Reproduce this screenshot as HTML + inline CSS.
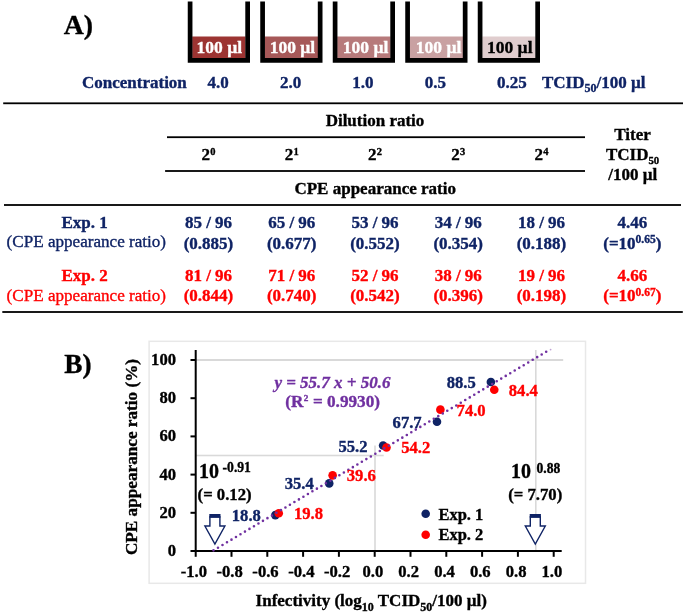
<!DOCTYPE html>
<html><head><meta charset="utf-8"><style>
html,body{margin:0;padding:0;background:#fff;}
svg{display:block;will-change:transform;}
</style></head><body>
<svg width="685" height="613" viewBox="0 0 685 613">
<text x="63.8" y="34" font-size="27.8" text-anchor="start" fill="#000" stroke="#000" stroke-width="0.35" font-weight="bold" font-style="normal" font-family="&quot;Liberation Serif&quot;, serif" >A)</text>
<rect x="192.2" y="36.5" width="53.3" height="22.5" fill="#9c3432"/>
<path d="M190.1,1.6 V60.4 H247.65 V1.6" fill="none" stroke="#000" stroke-width="4.7" stroke-linejoin="miter"/>
<text x="219.35" y="52.9" font-size="17.5" text-anchor="middle" fill="#fff" stroke="#fff" stroke-width="0.35" font-weight="bold" font-style="normal" font-family="&quot;Liberation Serif&quot;, serif" >100 µl</text>
<rect x="264.7" y="36.5" width="53.3" height="22.5" fill="#a65858"/>
<path d="M262.59999999999997,1.6 V60.4 H320.15 V1.6" fill="none" stroke="#000" stroke-width="4.7" stroke-linejoin="miter"/>
<text x="292.45" y="52.9" font-size="17.5" text-anchor="middle" fill="#fff" stroke="#fff" stroke-width="0.35" font-weight="bold" font-style="normal" font-family="&quot;Liberation Serif&quot;, serif" >100 µl</text>
<rect x="337.2" y="36.5" width="53.3" height="22.5" fill="#b77a7b"/>
<path d="M335.09999999999997,1.6 V60.4 H392.65 V1.6" fill="none" stroke="#000" stroke-width="4.7" stroke-linejoin="miter"/>
<text x="365.65" y="52.9" font-size="17.5" text-anchor="middle" fill="#fff" stroke="#fff" stroke-width="0.35" font-weight="bold" font-style="normal" font-family="&quot;Liberation Serif&quot;, serif" >100 µl</text>
<rect x="409.7" y="36.5" width="53.3" height="22.5" fill="#c9a1a2"/>
<path d="M407.59999999999997,1.6 V60.4 H465.15 V1.6" fill="none" stroke="#000" stroke-width="4.7" stroke-linejoin="miter"/>
<text x="438.65" y="52.9" font-size="17.5" text-anchor="middle" fill="#fff" stroke="#fff" stroke-width="0.35" font-weight="bold" font-style="normal" font-family="&quot;Liberation Serif&quot;, serif" >100 µl</text>
<rect x="482.2" y="36.5" width="53.3" height="22.5" fill="#e0cdce"/>
<path d="M480.09999999999997,1.6 V60.4 H537.65 V1.6" fill="none" stroke="#000" stroke-width="4.7" stroke-linejoin="miter"/>
<text x="509.74999999999994" y="52.9" font-size="17.5" text-anchor="middle" fill="#000" stroke="#000" stroke-width="0.35" font-weight="bold" font-style="normal" font-family="&quot;Liberation Serif&quot;, serif" >100 µl</text>
<text x="82" y="88.4" font-size="17" text-anchor="start" fill="#0f2365" stroke="#0f2365" stroke-width="0.35" font-weight="bold" font-style="normal" font-family="&quot;Liberation Serif&quot;, serif" >Concentration</text>
<text x="207.5" y="88.4" font-size="17" text-anchor="start" fill="#0f2365" stroke="#0f2365" stroke-width="0.35" font-weight="bold" font-style="normal" font-family="&quot;Liberation Serif&quot;, serif" >4.0</text>
<text x="279.9" y="88.4" font-size="17" text-anchor="start" fill="#0f2365" stroke="#0f2365" stroke-width="0.35" font-weight="bold" font-style="normal" font-family="&quot;Liberation Serif&quot;, serif" >2.0</text>
<text x="352.3" y="88.4" font-size="17" text-anchor="start" fill="#0f2365" stroke="#0f2365" stroke-width="0.35" font-weight="bold" font-style="normal" font-family="&quot;Liberation Serif&quot;, serif" >1.0</text>
<text x="424.70000000000005" y="88.4" font-size="17" text-anchor="start" fill="#0f2365" stroke="#0f2365" stroke-width="0.35" font-weight="bold" font-style="normal" font-family="&quot;Liberation Serif&quot;, serif" >0.5</text>
<text x="497.1" y="88.4" font-size="17" text-anchor="start" fill="#0f2365" stroke="#0f2365" stroke-width="0.35" font-weight="bold" font-style="normal" font-family="&quot;Liberation Serif&quot;, serif" >0.25</text>
<text x="542" y="88.2" font-size="17" text-anchor="start" fill="#0f2365" stroke="#0f2365" stroke-width="0.35" font-weight="bold" font-style="normal" font-family="&quot;Liberation Serif&quot;, serif" >TCID<tspan font-size="12" dy="3.7">50</tspan><tspan dy="-3.7">/100 µl</tspan></text>
<rect x="3.2" y="102.39999999999999" width="679.8" height="1.8" fill="#000"/>
<rect x="167" y="136.29999999999998" width="418" height="1.8" fill="#000"/>
<rect x="165.1" y="170.1" width="419.9" height="1.8" fill="#000"/>
<rect x="4" y="204.1" width="677" height="1.8" fill="#000"/>
<rect x="2.3" y="311.1" width="680.5" height="1.8" fill="#000"/>
<text x="375" y="126" font-size="17" text-anchor="middle" fill="#000" stroke="#000" stroke-width="0.35" font-weight="bold" font-style="normal" font-family="&quot;Liberation Serif&quot;, serif" >Dilution ratio</text>
<text x="208.5" y="160.4" font-size="17" text-anchor="middle" fill="#000" stroke="#000" stroke-width="0.35" font-weight="bold" font-style="normal" font-family="&quot;Liberation Serif&quot;, serif" >2<tspan font-size="10.5" dy="-5.4" dx="0.3">0</tspan></text>
<text x="291.75" y="160.4" font-size="17" text-anchor="middle" fill="#000" stroke="#000" stroke-width="0.35" font-weight="bold" font-style="normal" font-family="&quot;Liberation Serif&quot;, serif" >2<tspan font-size="10.5" dy="-5.4" dx="0.3">1</tspan></text>
<text x="375.0" y="160.4" font-size="17" text-anchor="middle" fill="#000" stroke="#000" stroke-width="0.35" font-weight="bold" font-style="normal" font-family="&quot;Liberation Serif&quot;, serif" >2<tspan font-size="10.5" dy="-5.4" dx="0.3">2</tspan></text>
<text x="458.25" y="160.4" font-size="17" text-anchor="middle" fill="#000" stroke="#000" stroke-width="0.35" font-weight="bold" font-style="normal" font-family="&quot;Liberation Serif&quot;, serif" >2<tspan font-size="10.5" dy="-5.4" dx="0.3">3</tspan></text>
<text x="541.5" y="160.4" font-size="17" text-anchor="middle" fill="#000" stroke="#000" stroke-width="0.35" font-weight="bold" font-style="normal" font-family="&quot;Liberation Serif&quot;, serif" >2<tspan font-size="10.5" dy="-5.4" dx="0.3">4</tspan></text>
<text x="632.5" y="139.8" font-size="17" text-anchor="middle" fill="#000" stroke="#000" stroke-width="0.35" font-weight="bold" font-style="normal" font-family="&quot;Liberation Serif&quot;, serif" >Titer</text>
<text x="632.6" y="160" font-size="17" text-anchor="middle" fill="#000" stroke="#000" stroke-width="0.35" font-weight="bold" font-style="normal" font-family="&quot;Liberation Serif&quot;, serif" >TCID<tspan font-size="10.8" dy="4.3">50</tspan></text>
<text x="632.7" y="180.3" font-size="17" text-anchor="middle" fill="#000" stroke="#000" stroke-width="0.35" font-weight="bold" font-style="normal" font-family="&quot;Liberation Serif&quot;, serif" >/100 µl</text>
<text x="375.2" y="193.5" font-size="17" text-anchor="middle" fill="#000" stroke="#000" stroke-width="0.35" font-weight="bold" font-style="normal" font-family="&quot;Liberation Serif&quot;, serif" >CPE appearance ratio</text>
<text x="84.6" y="227.6" font-size="17" text-anchor="middle" fill="#0f2365" stroke="#0f2365" stroke-width="0.35" font-weight="bold" font-style="normal" font-family="&quot;Liberation Serif&quot;, serif" >Exp. 1</text>
<text x="86.3" y="246.5" font-size="17.1" text-anchor="middle" fill="#0f2365" stroke="#0f2365" stroke-width="0.35" font-weight="normal" font-style="normal" font-family="&quot;Liberation Serif&quot;, serif" >(CPE appearance ratio)</text>
<text x="84.6" y="281.1" font-size="17" text-anchor="middle" fill="#ff0000" stroke="#ff0000" stroke-width="0.35" font-weight="bold" font-style="normal" font-family="&quot;Liberation Serif&quot;, serif" >Exp. 2</text>
<text x="86.3" y="301.0" font-size="17.1" text-anchor="middle" fill="#ff0000" stroke="#ff0000" stroke-width="0.35" font-weight="normal" font-style="normal" font-family="&quot;Liberation Serif&quot;, serif" >(CPE appearance ratio)</text>
<text x="208.5" y="228.3" font-size="17" text-anchor="middle" fill="#0f2365" stroke="#0f2365" stroke-width="0.35" font-weight="bold" font-style="normal" font-family="&quot;Liberation Serif&quot;, serif" >85 / 96</text>
<text x="208.5" y="248.6" font-size="17" text-anchor="middle" fill="#0f2365" stroke="#0f2365" stroke-width="0.35" font-weight="bold" font-style="normal" font-family="&quot;Liberation Serif&quot;, serif" >(0.885)</text>
<text x="208.5" y="281.2" font-size="17" text-anchor="middle" fill="#ff0000" stroke="#ff0000" stroke-width="0.35" font-weight="bold" font-style="normal" font-family="&quot;Liberation Serif&quot;, serif" >81 / 96</text>
<text x="208.5" y="301.4" font-size="17" text-anchor="middle" fill="#ff0000" stroke="#ff0000" stroke-width="0.35" font-weight="bold" font-style="normal" font-family="&quot;Liberation Serif&quot;, serif" >(0.844)</text>
<text x="291.75" y="228.3" font-size="17" text-anchor="middle" fill="#0f2365" stroke="#0f2365" stroke-width="0.35" font-weight="bold" font-style="normal" font-family="&quot;Liberation Serif&quot;, serif" >65 / 96</text>
<text x="291.75" y="248.6" font-size="17" text-anchor="middle" fill="#0f2365" stroke="#0f2365" stroke-width="0.35" font-weight="bold" font-style="normal" font-family="&quot;Liberation Serif&quot;, serif" >(0.677)</text>
<text x="291.75" y="281.2" font-size="17" text-anchor="middle" fill="#ff0000" stroke="#ff0000" stroke-width="0.35" font-weight="bold" font-style="normal" font-family="&quot;Liberation Serif&quot;, serif" >71 / 96</text>
<text x="291.75" y="301.4" font-size="17" text-anchor="middle" fill="#ff0000" stroke="#ff0000" stroke-width="0.35" font-weight="bold" font-style="normal" font-family="&quot;Liberation Serif&quot;, serif" >(0.740)</text>
<text x="375.0" y="228.3" font-size="17" text-anchor="middle" fill="#0f2365" stroke="#0f2365" stroke-width="0.35" font-weight="bold" font-style="normal" font-family="&quot;Liberation Serif&quot;, serif" >53 / 96</text>
<text x="375.0" y="248.6" font-size="17" text-anchor="middle" fill="#0f2365" stroke="#0f2365" stroke-width="0.35" font-weight="bold" font-style="normal" font-family="&quot;Liberation Serif&quot;, serif" >(0.552)</text>
<text x="375.0" y="281.2" font-size="17" text-anchor="middle" fill="#ff0000" stroke="#ff0000" stroke-width="0.35" font-weight="bold" font-style="normal" font-family="&quot;Liberation Serif&quot;, serif" >52 / 96</text>
<text x="375.0" y="301.4" font-size="17" text-anchor="middle" fill="#ff0000" stroke="#ff0000" stroke-width="0.35" font-weight="bold" font-style="normal" font-family="&quot;Liberation Serif&quot;, serif" >(0.542)</text>
<text x="458.25" y="228.3" font-size="17" text-anchor="middle" fill="#0f2365" stroke="#0f2365" stroke-width="0.35" font-weight="bold" font-style="normal" font-family="&quot;Liberation Serif&quot;, serif" >34 / 96</text>
<text x="458.25" y="248.6" font-size="17" text-anchor="middle" fill="#0f2365" stroke="#0f2365" stroke-width="0.35" font-weight="bold" font-style="normal" font-family="&quot;Liberation Serif&quot;, serif" >(0.354)</text>
<text x="458.25" y="281.2" font-size="17" text-anchor="middle" fill="#ff0000" stroke="#ff0000" stroke-width="0.35" font-weight="bold" font-style="normal" font-family="&quot;Liberation Serif&quot;, serif" >38 / 96</text>
<text x="458.25" y="301.4" font-size="17" text-anchor="middle" fill="#ff0000" stroke="#ff0000" stroke-width="0.35" font-weight="bold" font-style="normal" font-family="&quot;Liberation Serif&quot;, serif" >(0.396)</text>
<text x="541.5" y="228.3" font-size="17" text-anchor="middle" fill="#0f2365" stroke="#0f2365" stroke-width="0.35" font-weight="bold" font-style="normal" font-family="&quot;Liberation Serif&quot;, serif" >18 / 96</text>
<text x="541.5" y="248.6" font-size="17" text-anchor="middle" fill="#0f2365" stroke="#0f2365" stroke-width="0.35" font-weight="bold" font-style="normal" font-family="&quot;Liberation Serif&quot;, serif" >(0.188)</text>
<text x="541.5" y="281.2" font-size="17" text-anchor="middle" fill="#ff0000" stroke="#ff0000" stroke-width="0.35" font-weight="bold" font-style="normal" font-family="&quot;Liberation Serif&quot;, serif" >19 / 96</text>
<text x="541.5" y="301.4" font-size="17" text-anchor="middle" fill="#ff0000" stroke="#ff0000" stroke-width="0.35" font-weight="bold" font-style="normal" font-family="&quot;Liberation Serif&quot;, serif" >(0.198)</text>
<text x="632.3" y="227.8" font-size="17" text-anchor="middle" fill="#0f2365" stroke="#0f2365" stroke-width="0.35" font-weight="bold" font-style="normal" font-family="&quot;Liberation Serif&quot;, serif" >4.46</text>
<text x="632.3" y="248.7" font-size="17" text-anchor="middle" fill="#0f2365" stroke="#0f2365" stroke-width="0.35" font-weight="bold" font-style="normal" font-family="&quot;Liberation Serif&quot;, serif" >(=10<tspan font-size="11.5" dy="-5.3">0.65</tspan><tspan dy="5.3">)</tspan></text>
<text x="632.3" y="280.8" font-size="17" text-anchor="middle" fill="#ff0000" stroke="#ff0000" stroke-width="0.35" font-weight="bold" font-style="normal" font-family="&quot;Liberation Serif&quot;, serif" >4.66</text>
<text x="632.3" y="301.0" font-size="17" text-anchor="middle" fill="#ff0000" stroke="#ff0000" stroke-width="0.35" font-weight="bold" font-style="normal" font-family="&quot;Liberation Serif&quot;, serif" >(=10<tspan font-size="11.5" dy="-5.3">0.67</tspan><tspan dy="5.3">)</tspan></text>
<text x="64.2" y="372.7" font-size="27.3" text-anchor="start" fill="#000" stroke="#000" stroke-width="0.35" font-weight="bold" font-style="normal" font-family="&quot;Liberation Serif&quot;, serif" >B)</text>
<rect x="149.1" y="341.3" width="436.4" height="242" fill="none" stroke="#e8e8e8" stroke-width="1.5"/>
<rect x="196" y="359.0" width="367.20000000000005" height="2" fill="#d9d9d9"/>
<rect x="196" y="454.7" width="187.7" height="1.6" fill="#d9d9d9"/>
<rect x="374.2" y="445.5" width="1.6" height="105.5" fill="#d9d9d9"/>
<rect x="535.0" y="350" width="1.6" height="201" fill="#d9d9d9"/>
<rect x="194.7" y="350" width="2" height="202" fill="#000"/>
<rect x="194.7" y="550.0" width="367.00000000000006" height="2" fill="#000"/>
<rect x="190.5" y="550.0" width="5.199999999999989" height="2" fill="#000"/>
<text x="176" y="556.0" font-size="16.6" text-anchor="end" fill="#000" stroke="#000" stroke-width="0.35" font-weight="bold" font-style="normal" font-family="&quot;Liberation Serif&quot;, serif" >0</text>
<rect x="190.5" y="511.79999999999995" width="5.199999999999989" height="2" fill="#000"/>
<text x="176" y="517.8" font-size="16.6" text-anchor="end" fill="#000" stroke="#000" stroke-width="0.35" font-weight="bold" font-style="normal" font-family="&quot;Liberation Serif&quot;, serif" >20</text>
<rect x="190.5" y="473.6" width="5.199999999999989" height="2" fill="#000"/>
<text x="176" y="479.6" font-size="16.6" text-anchor="end" fill="#000" stroke="#000" stroke-width="0.35" font-weight="bold" font-style="normal" font-family="&quot;Liberation Serif&quot;, serif" >40</text>
<rect x="190.5" y="435.4" width="5.199999999999989" height="2" fill="#000"/>
<text x="176" y="441.4" font-size="16.6" text-anchor="end" fill="#000" stroke="#000" stroke-width="0.35" font-weight="bold" font-style="normal" font-family="&quot;Liberation Serif&quot;, serif" >60</text>
<rect x="190.5" y="397.20000000000005" width="5.199999999999989" height="2" fill="#000"/>
<text x="176" y="403.20000000000005" font-size="16.6" text-anchor="end" fill="#000" stroke="#000" stroke-width="0.35" font-weight="bold" font-style="normal" font-family="&quot;Liberation Serif&quot;, serif" >80</text>
<rect x="190.5" y="359.0" width="5.199999999999989" height="2" fill="#000"/>
<text x="176" y="365.0" font-size="16.6" text-anchor="end" fill="#000" stroke="#000" stroke-width="0.35" font-weight="bold" font-style="normal" font-family="&quot;Liberation Serif&quot;, serif" >100</text>
<rect x="194.7" y="551.0" width="2" height="5.8" fill="#000"/>
<text x="193.89999999999998" y="576.8" font-size="16.6" text-anchor="middle" fill="#000" stroke="#000" stroke-width="0.35" font-weight="bold" font-style="normal" font-family="&quot;Liberation Serif&quot;, serif" >-1.0</text>
<rect x="230.49999999999997" y="551.0" width="2" height="5.8" fill="#000"/>
<text x="229.69999999999996" y="576.8" font-size="16.6" text-anchor="middle" fill="#000" stroke="#000" stroke-width="0.35" font-weight="bold" font-style="normal" font-family="&quot;Liberation Serif&quot;, serif" >-0.8</text>
<rect x="266.3" y="551.0" width="2" height="5.8" fill="#000"/>
<text x="265.5" y="576.8" font-size="16.6" text-anchor="middle" fill="#000" stroke="#000" stroke-width="0.35" font-weight="bold" font-style="normal" font-family="&quot;Liberation Serif&quot;, serif" >-0.6</text>
<rect x="302.1" y="551.0" width="2" height="5.8" fill="#000"/>
<text x="301.3" y="576.8" font-size="16.6" text-anchor="middle" fill="#000" stroke="#000" stroke-width="0.35" font-weight="bold" font-style="normal" font-family="&quot;Liberation Serif&quot;, serif" >-0.4</text>
<rect x="337.9" y="551.0" width="2" height="5.8" fill="#000"/>
<text x="337.09999999999997" y="576.8" font-size="16.6" text-anchor="middle" fill="#000" stroke="#000" stroke-width="0.35" font-weight="bold" font-style="normal" font-family="&quot;Liberation Serif&quot;, serif" >-0.2</text>
<rect x="373.7" y="551.0" width="2" height="5.8" fill="#000"/>
<text x="372.9" y="576.8" font-size="16.6" text-anchor="middle" fill="#000" stroke="#000" stroke-width="0.35" font-weight="bold" font-style="normal" font-family="&quot;Liberation Serif&quot;, serif" >0.0</text>
<rect x="409.5" y="551.0" width="2" height="5.8" fill="#000"/>
<text x="408.7" y="576.8" font-size="16.6" text-anchor="middle" fill="#000" stroke="#000" stroke-width="0.35" font-weight="bold" font-style="normal" font-family="&quot;Liberation Serif&quot;, serif" >0.2</text>
<rect x="445.3" y="551.0" width="2" height="5.8" fill="#000"/>
<text x="444.5" y="576.8" font-size="16.6" text-anchor="middle" fill="#000" stroke="#000" stroke-width="0.35" font-weight="bold" font-style="normal" font-family="&quot;Liberation Serif&quot;, serif" >0.4</text>
<rect x="481.1" y="551.0" width="2" height="5.8" fill="#000"/>
<text x="480.3" y="576.8" font-size="16.6" text-anchor="middle" fill="#000" stroke="#000" stroke-width="0.35" font-weight="bold" font-style="normal" font-family="&quot;Liberation Serif&quot;, serif" >0.6</text>
<rect x="516.9" y="551.0" width="2" height="5.8" fill="#000"/>
<text x="516.1" y="576.8" font-size="16.6" text-anchor="middle" fill="#000" stroke="#000" stroke-width="0.35" font-weight="bold" font-style="normal" font-family="&quot;Liberation Serif&quot;, serif" >0.8</text>
<rect x="552.7" y="551.0" width="2" height="5.8" fill="#000"/>
<text x="551.9000000000001" y="576.8" font-size="16.6" text-anchor="middle" fill="#000" stroke="#000" stroke-width="0.35" font-weight="bold" font-style="normal" font-family="&quot;Liberation Serif&quot;, serif" >1.0</text>
<text x="255.6" y="606.4" font-size="17" text-anchor="start" fill="#000" stroke="#000" stroke-width="0.35" font-weight="bold" font-style="normal" font-family="&quot;Liberation Serif&quot;, serif" >Infectivity (log<tspan font-size="12" dy="4.5">10</tspan><tspan dy="-4.5"> TCID</tspan><tspan font-size="12" dy="4.5">50</tspan><tspan dy="-4.5">/100 µl)</tspan></text>
<text x="0" y="0" font-size="17.2" text-anchor="middle" fill="#000" stroke="#000" stroke-width="0.35" font-weight="bold" font-style="normal" font-family="&quot;Liberation Serif&quot;, serif" transform="translate(137.0,457) rotate(-90)">CPE appearance ratio (%)</text>
<circle cx="490.87" cy="381.97" r="4.3" fill="#0f2365"/>
<circle cx="436.99" cy="421.69" r="4.3" fill="#0f2365"/>
<circle cx="383.11" cy="445.57" r="4.3" fill="#0f2365"/>
<circle cx="329.23" cy="483.39" r="4.3" fill="#0f2365"/>
<circle cx="275.35" cy="515.09" r="4.3" fill="#0f2365"/>
<circle cx="494.27" cy="389.80" r="4.3" fill="#ff0000"/>
<circle cx="440.39" cy="409.66" r="4.3" fill="#ff0000"/>
<circle cx="386.51" cy="447.48" r="4.3" fill="#ff0000"/>
<circle cx="332.63" cy="475.36" r="4.3" fill="#ff0000"/>
<circle cx="278.76" cy="513.18" r="4.3" fill="#ff0000"/>
<line x1="213.5" y1="550.37" x2="549" y2="350.08" stroke="#7030a0" stroke-width="2.6" stroke-dasharray="0 5.236" stroke-linecap="round"/>
<circle cx="550.6" cy="349.6" r="0.9" fill="#7030a0" fill-opacity="0.45"/>
<text x="446.7" y="387.8" font-size="16.6" text-anchor="start" fill="#0f2365" stroke="#0f2365" stroke-width="0.35" font-weight="bold" font-style="normal" font-family="&quot;Liberation Serif&quot;, serif" >88.5</text>
<text x="508.8" y="395.7" font-size="16.6" text-anchor="start" fill="#ff0000" stroke="#ff0000" stroke-width="0.35" font-weight="bold" font-style="normal" font-family="&quot;Liberation Serif&quot;, serif" >84.4</text>
<text x="456.6" y="415.9" font-size="16.6" text-anchor="start" fill="#ff0000" stroke="#ff0000" stroke-width="0.35" font-weight="bold" font-style="normal" font-family="&quot;Liberation Serif&quot;, serif" >74.0</text>
<text x="392.6" y="427.5" font-size="16.6" text-anchor="start" fill="#0f2365" stroke="#0f2365" stroke-width="0.35" font-weight="bold" font-style="normal" font-family="&quot;Liberation Serif&quot;, serif" >67.7</text>
<text x="338.5" y="451.8" font-size="16.6" text-anchor="start" fill="#0f2365" stroke="#0f2365" stroke-width="0.35" font-weight="bold" font-style="normal" font-family="&quot;Liberation Serif&quot;, serif" >55.2</text>
<text x="401.2" y="453.1" font-size="16.6" text-anchor="start" fill="#ff0000" stroke="#ff0000" stroke-width="0.35" font-weight="bold" font-style="normal" font-family="&quot;Liberation Serif&quot;, serif" >54.2</text>
<text x="284.7" y="489.4" font-size="16.6" text-anchor="start" fill="#0f2365" stroke="#0f2365" stroke-width="0.35" font-weight="bold" font-style="normal" font-family="&quot;Liberation Serif&quot;, serif" >35.4</text>
<text x="346.8" y="481.3" font-size="16.6" text-anchor="start" fill="#ff0000" stroke="#ff0000" stroke-width="0.35" font-weight="bold" font-style="normal" font-family="&quot;Liberation Serif&quot;, serif" >39.6</text>
<text x="231.8" y="521.0" font-size="16.6" text-anchor="start" fill="#0f2365" stroke="#0f2365" stroke-width="0.35" font-weight="bold" font-style="normal" font-family="&quot;Liberation Serif&quot;, serif" >18.8</text>
<text x="294" y="518.8" font-size="16.6" text-anchor="start" fill="#ff0000" stroke="#ff0000" stroke-width="0.35" font-weight="bold" font-style="normal" font-family="&quot;Liberation Serif&quot;, serif" >19.8</text>
<text x="274.4" y="387.9" font-size="17" text-anchor="start" fill="#7030a0" stroke="#7030a0" stroke-width="0.35" font-weight="bold" font-style="italic" font-family="&quot;Liberation Serif&quot;, serif" >y = 55.7 x + 50.6</text>
<text x="285.3" y="406.9" font-size="17.2" text-anchor="start" fill="#7030a0" stroke="#7030a0" stroke-width="0.35" font-weight="bold" font-style="normal" font-family="&quot;Liberation Serif&quot;, serif" >(R<tspan font-size="9.2" dy="-6.0" dx="0.2">2</tspan><tspan dy="6.0" dx="0.4"> = 0.9930)</tspan></text>
<text x="199" y="477.8" font-size="20" text-anchor="start" fill="#000" stroke="#000" stroke-width="0.35" font-weight="bold" font-style="normal" font-family="&quot;Liberation Serif&quot;, serif" >10</text>
<text x="222.6" y="472.4" font-size="13.6" text-anchor="start" fill="#000" stroke="#000" stroke-width="0.35" font-weight="bold" font-style="normal" font-family="&quot;Liberation Serif&quot;, serif" >-0.91</text>
<text x="197.6" y="499.6" font-size="16.7" text-anchor="start" fill="#000" stroke="#000" stroke-width="0.35" font-weight="bold" font-style="normal" font-family="&quot;Liberation Serif&quot;, serif" >(= 0.12)</text>
<text x="510.9" y="478.3" font-size="20" text-anchor="start" fill="#000" stroke="#000" stroke-width="0.35" font-weight="bold" font-style="normal" font-family="&quot;Liberation Serif&quot;, serif" >10</text>
<text x="536.5" y="472.6" font-size="13.6" text-anchor="start" fill="#000" stroke="#000" stroke-width="0.35" font-weight="bold" font-style="normal" font-family="&quot;Liberation Serif&quot;, serif" >0.88</text>
<text x="508.2" y="500" font-size="16.7" text-anchor="start" fill="#000" stroke="#000" stroke-width="0.35" font-weight="bold" font-style="normal" font-family="&quot;Liberation Serif&quot;, serif" >(= 7.70)</text>
<circle cx="425.7" cy="513.8" r="4.3" fill="#0f2365"/>
<circle cx="425.7" cy="534.8" r="4.3" fill="#ff0000"/>
<text x="438.4" y="520" font-size="16.5" text-anchor="start" fill="#000" stroke="#000" stroke-width="0.35" font-weight="bold" font-style="normal" font-family="&quot;Liberation Serif&quot;, serif" >Exp. 1</text>
<text x="438.4" y="540" font-size="16.5" text-anchor="start" fill="#000" stroke="#000" stroke-width="0.35" font-weight="bold" font-style="normal" font-family="&quot;Liberation Serif&quot;, serif" >Exp. 2</text>
<path d="M209.9,517 L209.9,526 L204.9,526 L214.9,544 L224.9,526 L219.9,526 L219.9,517 Z" fill="#fff" stroke="#0f2365" stroke-width="1.4" stroke-linejoin="miter"/><rect x="209.3" y="514" width="11.2" height="3.6" fill="#0f2365"/>
<path d="M530.3,517 L530.3,526 L525.3,526 L535.3,544 L545.3,526 L540.3,526 L540.3,517 Z" fill="#fff" stroke="#0f2365" stroke-width="1.4" stroke-linejoin="miter"/><rect x="529.6999999999999" y="514" width="11.2" height="3.6" fill="#0f2365"/>
</svg>
</body></html>
